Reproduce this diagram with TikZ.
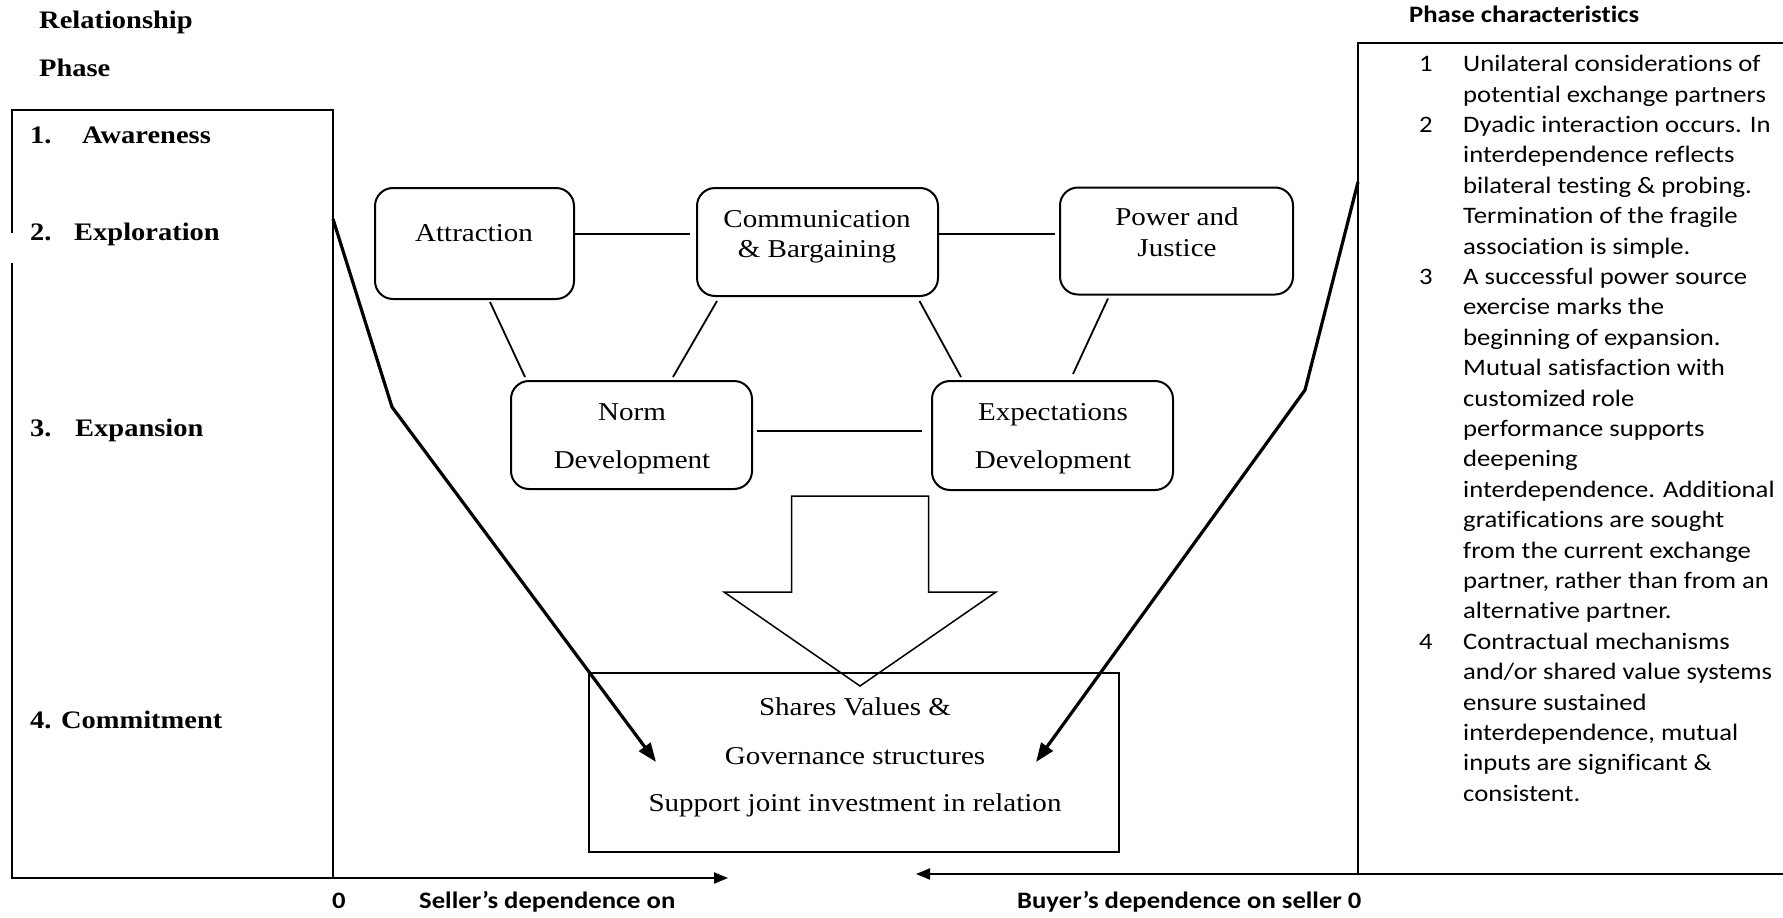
\documentclass[tikz,border=0pt]{standalone}
\usepackage{fontspec}
\setmainfont{Liberation Serif}[FakeStretch=1.13]
\newfontfamily\calfont{Carlito}[FakeStretch=1.13, Ligatures=NoCommon]
\usetikzlibrary{arrows.meta}

\newcommand{\boxtxt}{\fontsize{25.7}{30}\selectfont}
\newcommand{\phasetxt}{\fontsize{25.2}{30}\selectfont\bfseries}
\newcommand{\listtxt}{\calfont\fontsize{23.6}{30}\selectfont}
\newcommand{\axistxt}{\calfont\fontsize{23.6}{30}\selectfont\bfseries}

\begin{document}
\begin{tikzpicture}[x=1pt,y=-1pt,
  rbox/.style={draw, line width=2pt, rounded corners=18pt, inner sep=0pt},
  sbox/.style={draw, line width=2pt, inner sep=0pt},
  link/.style={line width=1.8pt},
  phase/.style={anchor=base west, inner sep=0pt, font=\phasetxt},
  btxt/.style={anchor=base, inner sep=0pt, font=\boxtxt},
  ltxt/.style={anchor=base west, inner sep=0pt, font=\listtxt},
  axis/.style={anchor=base west, inner sep=0pt, font=\axistxt},
  dep/.style={line width=3.2pt, -{Triangle[length=19pt,width=14pt]}},
  scale arrow/.style={line width=2pt, -{Triangle[length=14pt,width=11pt]}}]
\useasboundingbox (0,0) rectangle (1783,918);

% ---------- left column: relationship phases ----------
\node[phase] (hRel) at (39,28) {Relationship};
\node[phase] (hPha) at (39,76) {Phase};
\draw[line width=2pt] (12,233) -- (12,110) -- (333,110) -- (333,878) -- (12,878) -- (12,263);
\node[phase] (p1n) at (30,143) {1.};
\node[phase] (p1)  at (82,143) {Awareness};
\node[phase] (p2n) at (30,240) {2.};
\node[phase] (p2)  at (74,240) {Exploration};
\node[phase] (p3n) at (30,436) {3.};
\node[phase] (p3)  at (75,436) {Expansion};
\node[phase] (p4)  at (30,728) {4. Commitment};

% ---------- right column: phase characteristics ----------
\node[axis] (hChar) at (1409,23) {Phase characteristics};
\draw[line width=2pt] (1783,43) -- (1358,43) -- (1358,874) -- (1783,874);
\foreach \t [count=\i] in {
  Unilateral considerations of,
  potential exchange partners,
  Dyadic interaction occurs. In,
  interdependence reflects,
  bilateral testing \& probing.,
  Termination of the fragile,
  association is simple.,
  A successful power source,
  exercise marks the,
  beginning of expansion.,
  Mutual satisfaction with,
  customized role,
  performance supports,
  deepening,
  interdependence. Additional,
  gratifications are sought,
  from the current exchange,
  {partner, rather than from an},
  alternative partner.,
  Contractual mechanisms,
  and/or shared value systems,
  ensure sustained,
  {interdependence, mutual},
  inputs are significant \&,
  consistent.}
  \node[ltxt] (pc\i) at (1463,{71.7+30.4*(\i-1)}) {\t};
\node[ltxt] (pn1) at (1419,71.7)  {1};
\node[ltxt] (pn2) at (1419,132.5) {2};
\node[ltxt] (pn3) at (1419,284.5) {3};
\node[ltxt] (pn4) at (1419,649.3) {4};

% ---------- centre: relational processes ----------
\node[rbox, minimum width=199pt, minimum height=111pt] (att) at (474.5,243.5) {};
\node[rbox, minimum width=241pt, minimum height=108pt] (com) at (817.5,242) {};
\node[rbox, minimum width=233pt, minimum height=107pt] (pow) at (1176.5,241) {};
\node[rbox, minimum width=241pt, minimum height=108pt] (nrm) at (631.5,435) {};
\node[rbox, minimum width=241pt, minimum height=109pt] (exm) at (1052.5,435.5) {};

\node[btxt] (attT) at (474,241) {Attraction};
\node[btxt] (comT1) at (817,227) {Communication};
\node[btxt] (comT2) at (817,257) {\& Bargaining};
\node[btxt] (powT1) at (1177,225) {Power and};
\node[btxt] (powT2) at (1177,256) {Justice};
\node[btxt] (nrmT1) at (632,420) {Norm};
\node[btxt] (nrmT2) at (632,468) {Development};
\node[btxt] (exmT1) at (1053,420) {Expectations};
\node[btxt] (exmT2) at (1053,468) {Development};

\draw[link] ([yshift=9.5pt]att.east) -- ([yshift=8pt,xshift=-6pt]com.west);
\draw[link] ([yshift=8pt]com.east) -- ([yshift=7pt,xshift=-4pt]pow.west);
\draw[link] ([yshift=4pt,xshift=4pt]nrm.east) -- ([yshift=4.5pt,xshift=-9pt]exm.west);
\draw[link] ([xshift=15.5pt,yshift=-2pt]att.south) -- ([xshift=-106.5pt,yshift=3pt]nrm.north);
\draw[link] ([xshift=-100.5pt,yshift=-4pt]com.south) -- ([xshift=41.5pt,yshift=3pt]nrm.north);
\draw[link] ([xshift=102pt,yshift=-4pt]com.south) -- ([xshift=-91.5pt,yshift=3pt]exm.north);
\draw[link] ([xshift=-68.5pt,yshift=-3pt]pow.south) -- ([xshift=20.5pt,yshift=6pt]exm.north);

% ---------- outcome ----------
\node[sbox, minimum width=530pt, minimum height=179pt] (gov) at (854,762.5) {};
\node[btxt] (govT1) at (855,715) {Shares Values \&};
\node[btxt] (govT2) at (855,764) {Governance structures};
\node[btxt] (govT3) at (855,811) {Support joint investment in relation};

% block arrow from the processes to the outcome
\draw[line width=1.5pt, line join=miter]
  (791.5,496) -- (928.5,496) -- (928.5,592) -- (996,592) -- (860,686)
  -- (724,592) -- (791.5,592) -- cycle;

% dependence paths
\coordinate (sellTip) at (656,762);
\coordinate (buyTip)  at (1036,762);
\draw[dep] (333,219) -- (392,407) -- (sellTip);
\draw[dep] (1358,182) -- (1305,390) -- (buyTip);

% dependence axes
\coordinate (sellEnd) at (728,878);
\coordinate (buyEnd)  at (916,874);
\draw[scale arrow] (333,878) -- (sellEnd);
\draw[scale arrow] (1358,874) -- (buyEnd);
\node[axis] (zeroL) at (332,908) {0};
\node[axis] (sellT) at (419,908) {Seller’s dependence on};
\node[axis] (buyT)  at (1017,908) {Buyer’s dependence on seller 0};
\end{tikzpicture}
\end{document}
